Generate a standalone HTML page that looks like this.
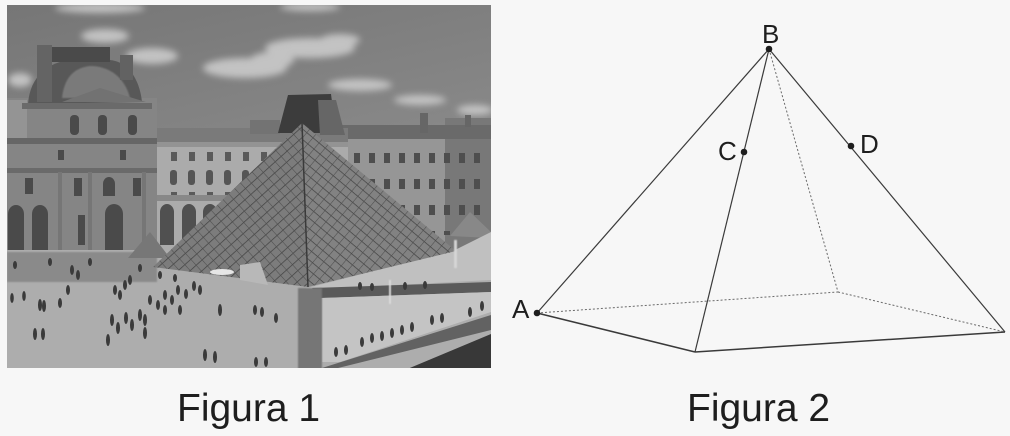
<!DOCTYPE html>
<html><head><meta charset="utf-8"><style>
html,body{margin:0;padding:0;background:#f7f7f7;width:1010px;height:436px;overflow:hidden}
svg{position:absolute;left:0;top:0}
text{font-family:"Liberation Sans",Arial,sans-serif;fill:#1e1e1e}
</style></head><body>
<svg width="1010" height="436" viewBox="0 0 1010 436" xmlns="http://www.w3.org/2000/svg">
<defs>
 <clipPath id="ph"><rect x="7" y="5" width="484" height="363"/></clipPath>
 <linearGradient id="sky" x1="0" y1="0" x2="0.3" y2="1">
  <stop offset="0" stop-color="#767676"/><stop offset="1" stop-color="#969696"/>
 </linearGradient>
 <filter id="bl" x="-50%" y="-50%" width="200%" height="200%"><feGaussianBlur stdDeviation="3.5"/></filter>
 <filter id="bl1"><feGaussianBlur stdDeviation="0.7"/></filter>
 <pattern id="gridL" width="8" height="8" patternUnits="userSpaceOnUse" patternTransform="rotate(-42)">
  <rect width="8" height="8" fill="#7c7c7c"/>
  <line x1="0" y1="0" x2="8" y2="0" stroke="#404040" stroke-width="1.4"/>
  <line x1="0" y1="0" x2="0" y2="8" stroke="#4e4e4e" stroke-width="1.1"/>
 </pattern>
 <pattern id="gridR" width="8" height="8" patternUnits="userSpaceOnUse" patternTransform="rotate(40)">
  <rect width="8" height="8" fill="#828282"/>
  <line x1="0" y1="0" x2="8" y2="0" stroke="#404040" stroke-width="1.4"/>
  <line x1="0" y1="0" x2="0" y2="8" stroke="#4e4e4e" stroke-width="1.1"/>
 </pattern>
 <pattern id="win" width="18" height="40" patternUnits="userSpaceOnUse" x="165" y="150">
  <rect x="6" y="2" width="6" height="9" fill="#5a5a5a"/>
  <rect x="5" y="20" width="7" height="15" rx="3" fill="#555"/>
 </pattern>
 <pattern id="win2" width="15" height="26" patternUnits="userSpaceOnUse" x="350" y="150">
  <rect x="4" y="3" width="6" height="10" fill="#4e4e4e"/>
 </pattern>
</defs>

<g clip-path="url(#ph)">
 <rect x="7" y="5" width="484" height="363" fill="url(#sky)"/>
 <!-- clouds -->
 <g fill="#cfcfcf" filter="url(#bl)" opacity="0.85">
  <ellipse cx="100" cy="8" rx="45" ry="5"/>
  <ellipse cx="310" cy="7" rx="30" ry="4"/>
  <ellipse cx="105" cy="36" rx="24" ry="7"/>
  <ellipse cx="152" cy="56" rx="26" ry="8"/>
  <ellipse cx="245" cy="68" rx="42" ry="10"/>
  <ellipse cx="272" cy="60" rx="22" ry="8"/>
  <ellipse cx="310" cy="48" rx="45" ry="10"/>
  <ellipse cx="340" cy="40" rx="20" ry="6"/>
  <ellipse cx="360" cy="85" rx="32" ry="6"/>
  <ellipse cx="420" cy="100" rx="26" ry="5"/>
  <ellipse cx="475" cy="110" rx="18" ry="5"/>
  <ellipse cx="20" cy="80" rx="12" ry="7"/>
 </g>

 <!-- right buildings -->
 <rect x="330" y="125" width="170" height="130" fill="#969696"/>
 <rect x="445" y="118" width="50" height="135" fill="#787878"/>
 <rect x="330" y="125" width="165" height="14" fill="#6a6a6a"/>
 <rect x="420" y="113" width="8" height="20" fill="#666"/>
 <rect x="465" y="115" width="6" height="12" fill="#666"/>
 <rect x="345" y="145" width="140" height="90" fill="url(#win2)"/>

 <!-- main wing -->
 <rect x="148" y="128" width="200" height="125" fill="#ababab"/>
 <rect x="148" y="128" width="200" height="14" fill="#7a7a7a"/>
 <rect x="148" y="142" width="200" height="5" fill="#939393"/>
 <rect x="160" y="150" width="140" height="45" fill="url(#win)"/>
 <rect x="148" y="195" width="200" height="6" fill="#888"/>
 <rect x="250" y="120" width="30" height="14" fill="#737373"/>
 <g fill="#505050">
  <path d="M160 245 V212 a7 8 0 0 1 14 0 V245Z"/>
  <path d="M182 245 V212 a7 8 0 0 1 14 0 V245Z"/>
  <path d="M203 245 V212 a7 8 0 0 1 14 0 V245Z"/>
 </g>

 <!-- left pavilion -->
 <rect x="7" y="98" width="150" height="155" fill="#858585"/>
 <rect x="7" y="100" width="20" height="40" fill="#949494"/>
 <path d="M28 104 C30 75 50 62 70 60 L110 60 C130 62 140 82 142 102 Z" fill="#585858"/>
 <path d="M62 98 C64 80 72 68 90 66 C110 66 125 78 130 98 Z" fill="#7a7a7a" filter="url(#bl1)"/>
 <rect x="52" y="47" width="58" height="15" fill="#4a4a4a"/>
 <rect x="37" y="45" width="15" height="57" fill="#646464"/>
 <rect x="120" y="55" width="13" height="25" fill="#626262"/>
 <path d="M62 102 L100 88 L146 102 Z" fill="#727272"/>
 <rect x="22" y="103" width="130" height="6" fill="#6a6a6a"/>
 <rect x="7" y="138" width="150" height="6" fill="#666"/>
 <rect x="7" y="168" width="150" height="5" fill="#6a6a6a"/>
 <g fill="#4a4a4a">
  <rect x="70" y="115" width="9" height="20" rx="4"/>
  <rect x="98" y="115" width="9" height="20" rx="4"/>
  <rect x="128" y="115" width="9" height="20" rx="4"/>
  <rect x="25" y="178" width="8" height="16"/>
  <rect x="74" y="178" width="8" height="18"/>
  <path d="M103 196 V184 a6 7 0 0 1 12 0 V196Z"/>
  <rect x="133" y="178" width="8" height="18"/>
  <rect x="58" y="150" width="6" height="10"/>
  <rect x="120" y="150" width="6" height="10"/>
  <path d="M8 250 V214 a8 9 0 0 1 16 0 V250Z"/>
  <path d="M32 250 V214 a8 9 0 0 1 16 0 V250Z"/>
  <path d="M105 250 V214 a9 10 0 0 1 18 0 V250Z"/>
  <rect x="78" y="215" width="7" height="30"/>
 </g>
 <g fill="#767676">
  <rect x="58" y="172" width="4" height="80"/>
  <rect x="88" y="172" width="4" height="80"/>
  <rect x="142" y="172" width="4" height="80"/>
 </g>

 <!-- plaza -->
 <rect x="7" y="250" width="484" height="120" fill="#adadad"/>
 <rect x="7" y="252" width="150" height="30" fill="#8a8a8a" filter="url(#bl1)"/>
 <!-- dark tower -->
 <path d="M278 133 L288 95 L331 94 L336 133 Z" fill="#3c3c3c"/>
 <path d="M318 100 L336 100 L345 135 L320 135 Z" fill="#666"/>
 <!-- small pyramids -->
 <path d="M128 258 L150 232 L170 258 Z" fill="#777"/>
 <path d="M450 236 L470 212 L491 232 L491 238 Z" fill="#888"/>
 <!-- right pools -->
 <path d="M300 290 L491 280 L491 232 L455 250 Z" fill="#c0c0c0"/>
 <path d="M312 288 L491 282 L491 292 L320 298 Z" fill="#5a5a5a"/>
 <path d="M322 298 L491 292 L491 312 L340 362 L322 362 Z" fill="#c4c4c4"/>
 <path d="M322 368 L491 315 L491 330 L330 370 Z" fill="#626262"/>
 <path d="M405 370 L491 334 L491 370 Z" fill="#383838"/>
 <rect x="298" y="288" width="24" height="82" fill="#767676" filter="url(#bl1)"/>
 <!-- main pyramid -->
 <path d="M302 123 L153 267 L308 287 Z" fill="url(#gridL)"/>
 <path d="M302 123 L308 287 L456 251 Z" fill="url(#gridR)"/>
 <path d="M302 123 L308 287" stroke="#3a3a3a" stroke-width="1.5"/>
 <path d="M240 280 L240 265 L260 262 L268 285 Z" fill="#b8b8b8"/>
 <ellipse cx="222" cy="272" rx="12" ry="3" fill="#e6e6e6"/>
 <!-- fountains -->
 <rect x="454" y="240" width="3" height="28" fill="#d6d6d6" filter="url(#bl1)"/>
 <rect x="389" y="280" width="2" height="24" fill="#dcdcdc" filter="url(#bl1)"/>
 <!-- people -->
 <g fill="#3a3a3a">
  <ellipse cx="12" cy="298" rx="1.8" ry="5"/><ellipse cx="24" cy="296" rx="1.8" ry="5"/>
  <ellipse cx="40" cy="305" rx="2" ry="6"/><ellipse cx="44" cy="306" rx="2" ry="6"/>
  <ellipse cx="35" cy="334" rx="2" ry="6"/><ellipse cx="43" cy="334" rx="2" ry="6"/>
  <ellipse cx="60" cy="303" rx="2" ry="5"/><ellipse cx="68" cy="290" rx="2" ry="5"/>
  <ellipse cx="72" cy="270" rx="2" ry="5"/><ellipse cx="78" cy="275" rx="2" ry="5"/>
  <ellipse cx="115" cy="290" rx="2" ry="5"/><ellipse cx="120" cy="295" rx="2" ry="5"/>
  <ellipse cx="125" cy="285" rx="2" ry="5"/><ellipse cx="130" cy="280" rx="2" ry="5"/>
  <ellipse cx="112" cy="320" rx="2" ry="6"/><ellipse cx="118" cy="328" rx="2" ry="6"/>
  <ellipse cx="126" cy="318" rx="2" ry="6"/><ellipse cx="132" cy="325" rx="2" ry="6"/>
  <ellipse cx="140" cy="315" rx="2" ry="6"/><ellipse cx="145" cy="320" rx="2" ry="6"/>
  <ellipse cx="150" cy="300" rx="2" ry="5"/><ellipse cx="158" cy="305" rx="2" ry="5"/>
  <ellipse cx="165" cy="295" rx="2" ry="5"/><ellipse cx="172" cy="300" rx="2" ry="5"/>
  <ellipse cx="178" cy="290" rx="2" ry="5"/><ellipse cx="186" cy="294" rx="2" ry="5"/>
  <ellipse cx="194" cy="286" rx="2" ry="5"/><ellipse cx="200" cy="290" rx="2" ry="5"/>
  <ellipse cx="108" cy="340" rx="2" ry="6"/><ellipse cx="145" cy="333" rx="2" ry="6"/>
  <ellipse cx="165" cy="310" rx="2" ry="5"/><ellipse cx="180" cy="310" rx="2" ry="5"/>
  <ellipse cx="205" cy="355" rx="2" ry="6"/><ellipse cx="215" cy="357" rx="2" ry="6"/>
  <ellipse cx="220" cy="310" rx="2" ry="6"/><ellipse cx="255" cy="310" rx="2" ry="5"/>
  <ellipse cx="262" cy="312" rx="2" ry="5"/><ellipse cx="276" cy="318" rx="2" ry="5"/>
  <ellipse cx="256" cy="362" rx="2" ry="5"/><ellipse cx="266" cy="362" rx="2" ry="5"/>
  <ellipse cx="15" cy="265" rx="2" ry="4"/><ellipse cx="50" cy="262" rx="2" ry="4"/>
  <ellipse cx="90" cy="262" rx="2" ry="4"/><ellipse cx="140" cy="268" rx="2" ry="4"/>
  <ellipse cx="160" cy="275" rx="2" ry="4"/><ellipse cx="175" cy="278" rx="2" ry="4"/>
  <ellipse cx="360" cy="286" rx="2" ry="4"/><ellipse cx="372" cy="287" rx="2" ry="4"/>
  <ellipse cx="405" cy="286" rx="2" ry="4"/><ellipse cx="425" cy="285" rx="2" ry="4"/>
  <ellipse cx="362" cy="342" rx="2" ry="5"/><ellipse cx="372" cy="338" rx="2" ry="5"/>
  <ellipse cx="382" cy="336" rx="2" ry="5"/><ellipse cx="392" cy="333" rx="2" ry="5"/>
  <ellipse cx="402" cy="330" rx="2" ry="5"/><ellipse cx="412" cy="327" rx="2" ry="5"/>
  <ellipse cx="432" cy="320" rx="2" ry="5"/><ellipse cx="442" cy="318" rx="2" ry="5"/>
  <ellipse cx="470" cy="312" rx="2" ry="5"/><ellipse cx="482" cy="306" rx="2" ry="5"/>
  <ellipse cx="336" cy="352" rx="2" ry="5"/><ellipse cx="346" cy="350" rx="2" ry="5"/>
 </g>
</g>

<!-- Figure 2: pyramid diagram -->
<g fill="none" stroke="#3a3a3a" stroke-width="1.2">
 <line x1="769" y1="49" x2="537" y2="313"/>
 <line x1="769" y1="49" x2="695" y2="352"/>
 <line x1="769" y1="49" x2="1005" y2="332"/>
 <line x1="537" y1="313" x2="695" y2="352" stroke-width="1.5"/>
 <line x1="695" y1="352" x2="1005" y2="332" stroke-width="1.5"/>
</g>
<g fill="none" stroke="#6a6a6a" stroke-width="1" stroke-dasharray="2 2">
 <line x1="769" y1="49" x2="838" y2="292"/>
 <line x1="537" y1="313" x2="838" y2="292"/>
 <line x1="838" y1="292" x2="1005" y2="332"/>
</g>
<g fill="#1e1e1e">
 <circle cx="769" cy="49" r="3.3"/>
 <circle cx="744" cy="152" r="3.3"/>
 <circle cx="851" cy="146" r="3.3"/>
 <circle cx="537" cy="313" r="3.3"/>
</g>
<text x="762" y="43" font-size="26">B</text>
<text x="718" y="160" font-size="26">C</text>
<text x="860" y="153" font-size="26">D</text>
<text x="512" y="318" font-size="26">A</text>

<text x="177" y="421" font-size="39">Figura 1</text>
<text x="687" y="421" font-size="39">Figura 2</text>
</svg>
</body></html>
